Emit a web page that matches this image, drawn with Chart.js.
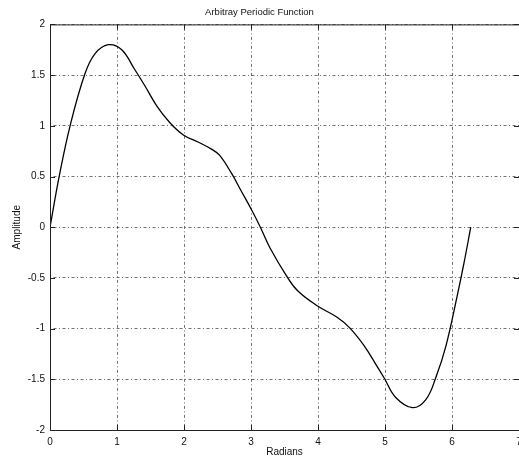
<!doctype html>
<html lang="en">
<head>
    <meta charset="UTF-8">
    <title>Arbitray Periodic Function</title>
    <script src="https://cdn.jsdelivr.net/npm/chart.js"></script>
    <style>
        html, body { margin: 0; padding: 0; background: #fff; }
        .chart-container { position: relative; width: 519px; height: 459px; }
    </style>
</head>
<body>
<div class="chart-container">
    <canvas id="periodicChart" width="519" height="459"></canvas>
</div>
<script>
    // values
    const radians   = [0, 0.14, 0.30, 0.52, 0.67, 0.87, 1.07, 1.26, 1.42, 1.59, 1.79, 1.99, 2.21, 2.41, 2.53, 2.71, 2.86, 3.01, 3.14,
                       3.28, 3.53, 3.70, 4.00, 4.29, 4.47, 4.69, 4.87, 4.99, 5.16, 5.41, 5.61, 5.76, 5.91, 6.08, 6.18, 6.28];
    const amplitude = [0, 0.51, 1.00, 1.51, 1.71, 1.80, 1.75, 1.56, 1.39, 1.20, 1.03, 0.91, 0.84, 0.77, 0.71, 0.53, 0.35, 0.17, 0.00,
                       -0.20, -0.48, -0.63, -0.78, -0.89, -0.99, -1.17, -1.36, -1.49, -1.68, -1.78, -1.70, -1.48, -1.17, -0.67, -0.35, 0.00];
    const xTicks = [0, 1, 2, 3, 4, 5, 6, 7];
    const yTicks = [-2, -1.5, -1, -0.5, 0, 0.5, 1, 1.5, 2];

    const points = radians.map((x, i) => ({ x: x, y: amplitude[i] }));
    const font = { family: 'Liberation Sans, Arial, sans-serif', size: 10 };
    const gridDash = [1, 2.5, 3, 2.5];

    // box round the plot and inward tick marks on all four sides
    const frame = {
        id: 'frame',
        afterDraw(chart) {
            const { ctx, chartArea: a, scales } = chart;
            ctx.save();
            ctx.strokeStyle = '#222';
            ctx.lineWidth = 1;
            ctx.strokeRect(a.left + 0.5, a.top + 0.5, a.right - a.left, a.bottom - a.top);
            ctx.beginPath();
            xTicks.forEach(v => {
                const px = Math.round(scales.x.getPixelForValue(v)) + 0.5;
                ctx.moveTo(px, a.bottom); ctx.lineTo(px, a.bottom - 5);
                ctx.moveTo(px, a.top); ctx.lineTo(px, a.top + 5);
            });
            yTicks.forEach(v => {
                const py = Math.round(scales.y.getPixelForValue(v)) + 0.5;
                ctx.moveTo(a.left, py); ctx.lineTo(a.left + 5, py);
                ctx.moveTo(a.right, py); ctx.lineTo(a.right - 5, py);
            });
            ctx.stroke();
            ctx.restore();
        }
    };

    const ctx = document.getElementById('periodicChart').getContext('2d');
    const periodicChart = new Chart(ctx, {
        type: 'scatter',
        data: {
            datasets: [{
                data: points,
                showLine: true,
                borderColor: '#000',
                borderWidth: 1.3,
                pointRadius: 0,
                tension: 0.4,
                fill: false
            }]
        },
        options: {
            responsive: false,
            animation: false,
            events: [],
            layout: { padding: { left: 0, right: 0, top: 0, bottom: 0 } },
            plugins: {
                legend: { display: false },
                tooltip: { enabled: false },
                title: {
                    display: true,
                    text: 'Arbitray Periodic Function',
                    color: '#111',
                    font: { family: font.family, size: 9.5, weight: 'normal' },
                    padding: { top: 7, bottom: 6 }
                }
            },
            scales: {
                x: {
                    type: 'linear',
                    min: 0,
                    max: 7,
                    afterBuildTicks: s => { s.ticks = xTicks.map(v => ({ value: v })); },
                    afterFit: s => { s.height = 29; s.paddingLeft = 0; s.paddingRight = 0; },
                    ticks: { color: '#111', font: font, padding: 6, maxRotation: 0, autoSkip: false,
                             callback: v => String(v) },
                    grid: { color: '#333', drawTicks: false, lineWidth: 0.7 },
                    border: { display: false, dash: gridDash },
                    title: { display: true, text: 'Radians', color: '#111', font: font, padding: { top: 0, bottom: 1 } }
                },
                y: {
                    min: -2,
                    max: 2,
                    afterBuildTicks: s => { s.ticks = yTicks.map(v => ({ value: v })); },
                    afterFit: s => { s.width = 50; s.paddingTop = 0; s.paddingBottom = 0; },
                    ticks: { color: '#111', font: font, padding: 5, autoSkip: false,
                             callback: v => String(v) },
                    grid: { color: '#333', drawTicks: false, lineWidth: 0.7 },
                    border: { display: false, dash: gridDash },
                    title: { display: true, text: 'Amplitude', color: '#111', font: font, padding: { top: 11, bottom: 0 } }
                }
            }
        },
        plugins: [frame]
    });
</script>
</body>
</html>
